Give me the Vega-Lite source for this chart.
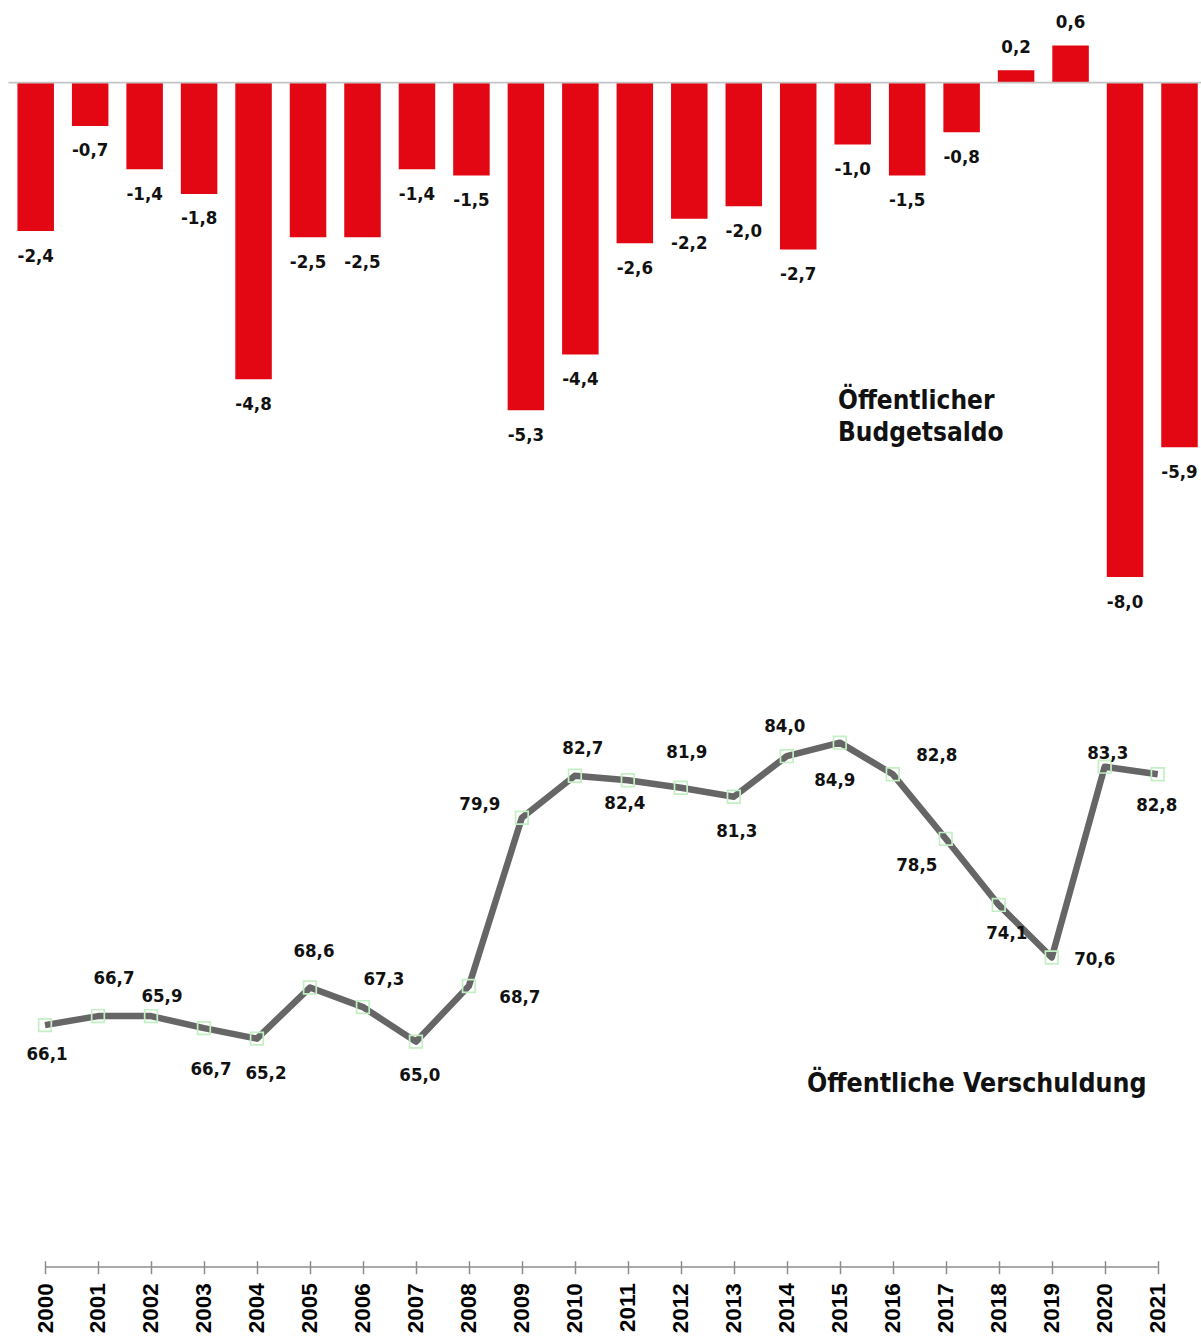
{
  "$schema": "https://vega.github.io/schema/vega-lite/v6.json",
  "width": 1201,
  "height": 1267,
  "autosize": {"type": "none"},
  "padding": {"left": 0, "top": 0, "right": 0, "bottom": 72},
  "background": "white",
  "config": {
    "view": {"stroke": null},
    "locale": {"number": {"decimal": ",", "thousands": ".", "grouping": [3], "currency": ["", " €"], "minus": "-"}},
    "text": {"font": "DejaVu Sans Condensed, DejaVu Sans, sans-serif", "fontWeight": "bold", "color": "#111111"}
  },
  "datasets": {
    "budget": [
      {"year": 2000, "value": -2.4}, {"year": 2001, "value": -0.7}, {"year": 2002, "value": -1.4},
      {"year": 2003, "value": -1.8}, {"year": 2004, "value": -4.8}, {"year": 2005, "value": -2.5},
      {"year": 2006, "value": -2.5}, {"year": 2007, "value": -1.4}, {"year": 2008, "value": -1.5},
      {"year": 2009, "value": -5.3}, {"year": 2010, "value": -4.4}, {"year": 2011, "value": -2.6},
      {"year": 2012, "value": -2.2}, {"year": 2013, "value": -2.0}, {"year": 2014, "value": -2.7},
      {"year": 2015, "value": -1.0}, {"year": 2016, "value": -1.5}, {"year": 2017, "value": -0.8},
      {"year": 2018, "value": 0.2}, {"year": 2019, "value": 0.6}, {"year": 2020, "value": -8.0},
      {"year": 2021, "value": -5.9}
    ],
    "debt": [
      {"year": 2000, "value": 66.1}, {"year": 2001, "value": 66.7}, {"year": 2002, "value": 66.7},
      {"year": 2003, "value": 65.9}, {"year": 2004, "value": 65.2}, {"year": 2005, "value": 68.6},
      {"year": 2006, "value": 67.3}, {"year": 2007, "value": 65.0}, {"year": 2008, "value": 68.7},
      {"year": 2009, "value": 79.9}, {"year": 2010, "value": 82.7}, {"year": 2011, "value": 82.4},
      {"year": 2012, "value": 81.9}, {"year": 2013, "value": 81.3}, {"year": 2014, "value": 84.0},
      {"year": 2015, "value": 84.9}, {"year": 2016, "value": 82.8}, {"year": 2017, "value": 78.5},
      {"year": 2018, "value": 74.1}, {"year": 2019, "value": 70.6}, {"year": 2020, "value": 83.3},
      {"year": 2021, "value": 82.8}
    ]
  },
  "layer": [
    {
      "data": {"name": "budget"},
      "encoding": {
        "x": {"field": "year", "type": "quantitative", "scale": {"domain": [1999.3446, 2021.3947], "nice": false, "zero": false, "padding": 0}, "axis": null},
        "y": {"field": "value", "type": "quantitative", "scale": {"domain": [-19.164, 1.338], "nice": false, "zero": false, "padding": 0}, "axis": null}
      },
      "layer": [
        {
          "mark": {"type": "bar", "width": 36.5, "color": "#e30613"},
          "encoding": {"y2": {"datum": 0}}
        },
        {
          "transform": [{"filter": "datum.year == 2000"}],
          "mark": {"type": "rule", "color": "#c4c4c4", "strokeWidth": 1.7},
          "encoding": {
            "x": {"datum": 1999.5, "type": "quantitative"},
            "x2": {"datum": 2021.5},
            "y": {"datum": 0, "type": "quantitative"}
          }
        },
        {
          "transform": [{"filter": "datum.value < 0"}],
          "mark": {"type": "text", "fontSize": 18.5, "align": "center", "baseline": "middle", "dy": 24.5},
          "encoding": {"text": {"field": "value", "type": "quantitative", "format": ".1f"}}
        },
        {
          "transform": [{"filter": "datum.value >= 0"}],
          "mark": {"type": "text", "fontSize": 18.5, "align": "center", "baseline": "middle", "dy": -23.5},
          "encoding": {"text": {"field": "value", "type": "quantitative", "format": ".1f"}}
        },
        {
          "transform": [{"filter": "datum.year == 2000"}],
          "mark": {"type": "text", "fontSize": 26, "align": "left", "baseline": "alphabetic", "lineHeight": 32},
          "encoding": {
            "x": {"datum": 2014.73, "type": "quantitative"},
            "y": {"datum": -5.285, "type": "quantitative"},
            "text": {"value": ["Öffentlicher", "Budgetsaldo"]}
          }
        }
      ]
    },
    {
      "data": {"name": "debt"},
      "encoding": {
        "x": {
          "field": "year", "type": "quantitative",
          "scale": {"domain": [1999.1507, 2021.8171], "nice": false, "zero": false, "padding": 0},
          "axis": {
            "values": [2000, 2001, 2002, 2003, 2004, 2005, 2006, 2007, 2008, 2009, 2010, 2011, 2012, 2013, 2014, 2015, 2016, 2017, 2018, 2019, 2020, 2021],
            "format": "d", "title": null, "grid": false, "domain": false,
            "labelAngle": -90, "labelFont": "Liberation Sans, Arial, sans-serif", "labelFontWeight": "bold",
            "labelFontSize": 22.5, "labelColor": "#000000", "labelPadding": 9,
            "tickSize": 13, "tickColor": "#8c8c8c", "tickWidth": 1.5, "offset": -6.3,
            "labelOverlap": false, "labelBound": false, "labelFlush": false
          }
        },
        "y": {"field": "value", "type": "quantitative", "scale": {"domain": [50.0, 134.33], "nice": false, "zero": false, "padding": 0}, "axis": null}
      },
      "layer": [
        {
          "transform": [{"filter": "datum.year == 2000"}],
          "mark": {"type": "rule", "color": "#8c8c8c", "strokeWidth": 1.5},
          "encoding": {
            "x": {"datum": 2000, "type": "quantitative"},
            "x2": {"datum": 2021},
            "y": {"datum": 50.0, "type": "quantitative"}
          }
        },
        {
          "mark": {"type": "line", "color": "#666666", "strokeWidth": 6.5, "strokeJoin": "round"}
        },
        {
          "mark": {"type": "point", "shape": "square", "size": 160, "filled": false, "color": "#c4efc4", "strokeWidth": 1.7, "opacity": 1}
        },
        {
          "encoding": {"text": {"field": "value", "type": "quantitative", "format": ".1f"}},
          "layer": [
            {"transform": [{"filter": "datum.year == 2000"}], "mark": {"type": "text", "fontSize": 18.5, "baseline": "middle", "dx": 2, "dy": 29}},
            {"transform": [{"filter": "datum.year == 2001"}], "mark": {"type": "text", "fontSize": 18.5, "baseline": "middle", "dx": 16, "dy": -38}},
            {"transform": [{"filter": "datum.year == 2002"}], "mark": {"type": "text", "fontSize": 18.5, "baseline": "middle", "dx": 60, "dy": 53}},
            {"transform": [{"filter": "datum.year == 2003"}], "mark": {"type": "text", "fontSize": 18.5, "baseline": "middle", "dx": -42, "dy": -32}},
            {"transform": [{"filter": "datum.year == 2004"}], "mark": {"type": "text", "fontSize": 18.5, "baseline": "middle", "dx": 9, "dy": 34}},
            {"transform": [{"filter": "datum.year == 2005"}], "mark": {"type": "text", "fontSize": 18.5, "baseline": "middle", "dx": 4, "dy": -37}},
            {"transform": [{"filter": "datum.year == 2006"}], "mark": {"type": "text", "fontSize": 18.5, "baseline": "middle", "dx": 21, "dy": -28}},
            {"transform": [{"filter": "datum.year == 2007"}], "mark": {"type": "text", "fontSize": 18.5, "baseline": "middle", "dx": 4, "dy": 33}},
            {"transform": [{"filter": "datum.year == 2008"}], "mark": {"type": "text", "fontSize": 18.5, "baseline": "middle", "dx": 51, "dy": 11}},
            {"transform": [{"filter": "datum.year == 2009"}], "mark": {"type": "text", "fontSize": 18.5, "baseline": "middle", "dx": -42, "dy": -14}},
            {"transform": [{"filter": "datum.year == 2010"}], "mark": {"type": "text", "fontSize": 18.5, "baseline": "middle", "dx": 8, "dy": -28}},
            {"transform": [{"filter": "datum.year == 2011"}], "mark": {"type": "text", "fontSize": 18.5, "baseline": "middle", "dx": -3, "dy": 23}},
            {"transform": [{"filter": "datum.year == 2012"}], "mark": {"type": "text", "fontSize": 18.5, "baseline": "middle", "dx": 6, "dy": -36}},
            {"transform": [{"filter": "datum.year == 2013"}], "mark": {"type": "text", "fontSize": 18.5, "baseline": "middle", "dx": 3, "dy": 34}},
            {"transform": [{"filter": "datum.year == 2014"}], "mark": {"type": "text", "fontSize": 18.5, "baseline": "middle", "dx": -2, "dy": -30}},
            {"transform": [{"filter": "datum.year == 2015"}], "mark": {"type": "text", "fontSize": 18.5, "baseline": "middle", "dx": -5, "dy": 37}},
            {"transform": [{"filter": "datum.year == 2016"}], "mark": {"type": "text", "fontSize": 18.5, "baseline": "middle", "dx": 44, "dy": -19}},
            {"transform": [{"filter": "datum.year == 2017"}], "mark": {"type": "text", "fontSize": 18.5, "baseline": "middle", "dx": -29, "dy": 26}},
            {"transform": [{"filter": "datum.year == 2018"}], "mark": {"type": "text", "fontSize": 18.5, "baseline": "middle", "dx": 8, "dy": 28}},
            {"transform": [{"filter": "datum.year == 2019"}], "mark": {"type": "text", "fontSize": 18.5, "baseline": "middle", "dx": 43, "dy": 2}},
            {"transform": [{"filter": "datum.year == 2020"}], "mark": {"type": "text", "fontSize": 18.5, "baseline": "middle", "dx": 3, "dy": -14}},
            {"transform": [{"filter": "datum.year == 2021"}], "mark": {"type": "text", "fontSize": 18.5, "baseline": "middle", "dx": -1, "dy": 31}}
          ]
        },
        {
          "transform": [{"filter": "datum.year == 2000"}],
          "mark": {"type": "text", "fontSize": 26.5, "align": "left", "baseline": "alphabetic"},
          "encoding": {
            "x": {"datum": 2014.381, "type": "quantitative"},
            "y": {"datum": 61.63, "type": "quantitative"},
            "text": {"value": "Öffentliche Verschuldung"}
          }
        }
      ]
    }
  ],
  "resolve": {"scale": {"x": "independent", "y": "independent"}, "axis": {"x": "independent", "y": "independent"}}
}
